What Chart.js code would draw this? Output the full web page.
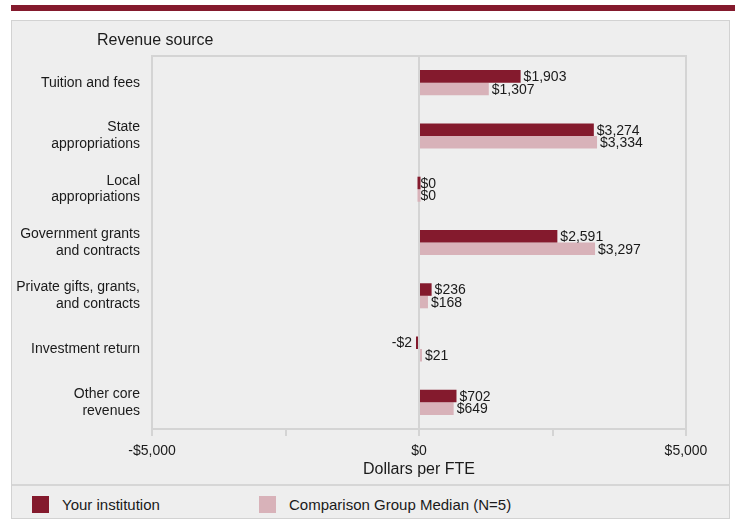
<!DOCTYPE html>
<html>
<head>
<meta charset="utf-8">
<script src="https://cdn.jsdelivr.net/npm/chart.js@4"></script>
<style>
  body { margin: 0; background: #ffffff; font-family: "Liberation Sans", Arial, sans-serif; }
  #band { position: absolute; left: 11px; top: 5px; width: 724px; height: 6px; background: #841a2d; }
  #panel { position: absolute; left: 11px; top: 20px; width: 719px; height: 499px; box-sizing: border-box;
           background: #eeeeee; border: 1px solid #d2d2d2; }
  #chartBox { position: absolute; left: 0; top: 0; width: 717px; height: 463px; }
  #ytitle { position: absolute; left: 85px; top: 10px; font-size: 16px; color: #1a1a1a; }
  #sep { position: absolute; left: 0; top: 463px; width: 717px; height: 2px; background: #d6d6d6; }
  #legend { position: absolute; left: 0; top: 465px; width: 717px; height: 32px; }
  .item { position: absolute; top: 10px; height: 17px; font-size: 15px; color: #1a1a1a; line-height: 17px; }
  .box { position: absolute; left: 0; top: 0; width: 17px; height: 17px; }
  .txt { position: absolute; left: 30px; top: 0; white-space: nowrap; }
</style>
</head>
<body>
<div id="band"></div>
<div id="panel">
  <div id="chartBox"><canvas id="revChart" width="717" height="463"></canvas></div>
  <div id="ytitle">Revenue source</div>
  <div id="sep"></div>
  <div id="legend"></div>
</div>
<script>
// Revenue sources (y axis)
const categories = [
    'Tuition and fees',
    ['State', 'appropriations'],
    ['Local', 'appropriations'],
    ['Government grants', 'and contracts'],
    ['Private gifts, grants,', 'and contracts'],
    'Investment return',
    ['Other core', 'revenues']
];

// Dollars per FTE
const yourInstitution = [1903, 3274, 0, 2591, 236, -2, 702];
const comparisonMedian = [1307, 3334, 0, 3297, 168, 21, 649];

const seriesNames = ['Your institution', 'Comparison Group Median (N=5)'];
const seriesColors = ['#841a2d', '#d8b2b9'];

const xTicks = [-5000, -2500, 0, 2500, 5000];
const xTickLabels = ['-$5,000', '', '$0', '', '$5,000'];

const gridGray = '#d4d4d4';

function money(v) {
    const s = '$' + Math.abs(v).toLocaleString('en-US');
    return v < 0 ? '-' + s : s;
}

// value labels at the end of each bar
const valueLabels = {
    id: 'valueLabels',
    afterDatasetsDraw(chart) {
        const ctx = chart.ctx;
        ctx.save();
        ctx.font = '14px "Liberation Sans", Arial, sans-serif';
        ctx.fillStyle = '#1a1a1a';
        ctx.textBaseline = 'middle';
        chart.data.datasets.forEach((ds, i) => {
            chart.getDatasetMeta(i).data.forEach((bar, j) => {
                const v = ds.data[j];
                if (v < 0) {
                    ctx.textAlign = 'right';
                    ctx.fillText(money(v), bar.x - 4, bar.y);
                } else {
                    ctx.textAlign = 'left';
                    ctx.fillText(money(v), bar.x + 3, bar.y + 1);
                }
            });
        });
        ctx.restore();
    }
};

// frame round the plot area
const plotFrame = {
    id: 'plotFrame',
    beforeDatasetsDraw(chart) {
        const a = chart.chartArea;
        const ctx = chart.ctx;
        ctx.save();
        ctx.strokeStyle = gridGray;
        ctx.lineWidth = 2;
        ctx.strokeRect(a.left, a.top, a.right - a.left, a.bottom - a.top);
        ctx.restore();
    }
};

const chart = new Chart(document.getElementById('revChart'), {
    type: 'bar',
    data: {
        labels: categories,
        datasets: [{
            label: seriesNames[0],
            data: yourInstitution,
            backgroundColor: seriesColors[0],
            categoryPercentage: 0.47,
            barPercentage: 1,
            minBarLength: 3
        }, {
            label: seriesNames[1],
            data: comparisonMedian,
            backgroundColor: seriesColors[1],
            categoryPercentage: 0.47,
            barPercentage: 1,
            minBarLength: 3
        }]
    },
    options: {
        indexAxis: 'y',
        responsive: false,
        animation: false,
        layout: { padding: { top: 35, right: 43, left: 0, bottom: 0 } },
        plugins: {
            legend: { display: false },
            tooltip: { enabled: false }
        },
        scales: {
            y: {
                grid: { display: false, drawTicks: false },
                border: { display: false },
                ticks: {
                    font: { family: '"Liberation Sans", Arial, sans-serif', size: 14 },
                    color: '#1a1a1a',
                    padding: 12
                },
                afterFit(scale) { scale.width = 140; }
            },
            x: {
                min: -5000,
                max: 5000,
                afterBuildTicks(scale) { scale.ticks = xTicks.map(v => ({ value: v })); },
                grid: {
                    color: ctx => (ctx.tick && ctx.tick.value % 5000 === 0) ? gridGray : 'rgba(0,0,0,0)',
                    tickColor: gridGray,
                    lineWidth: 2,
                    tickLength: 7
                },
                border: { display: false },
                ticks: {
                    font: { family: '"Liberation Sans", Arial, sans-serif', size: 14 },
                    color: '#1a1a1a',
                    padding: 7,
                    maxRotation: 0,
                    autoSkip: false,
                    callback: (v, i) => xTickLabels[i]
                },
                title: {
                    display: true,
                    text: 'Dollars per FTE',
                    font: { family: '"Liberation Sans", Arial, sans-serif', size: 16 },
                    color: '#1a1a1a',
                    padding: { top: 4, bottom: 5 }
                },
                afterFit(scale) { scale.height = 55; }
            }
        }
    },
    plugins: [plotFrame, valueLabels]
});

// legend row built from the series
const legend = document.getElementById('legend');
const legendLefts = [20, 247];
seriesNames.forEach((name, i) => {
    const item = document.createElement('div');
    item.className = 'item';
    item.style.left = legendLefts[i] + 'px';
    item.innerHTML = '<div class="box" style="background:' + seriesColors[i] + '"></div><div class="txt">' + name + '</div>';
    legend.appendChild(item);
});
</script>
</body>
</html>
